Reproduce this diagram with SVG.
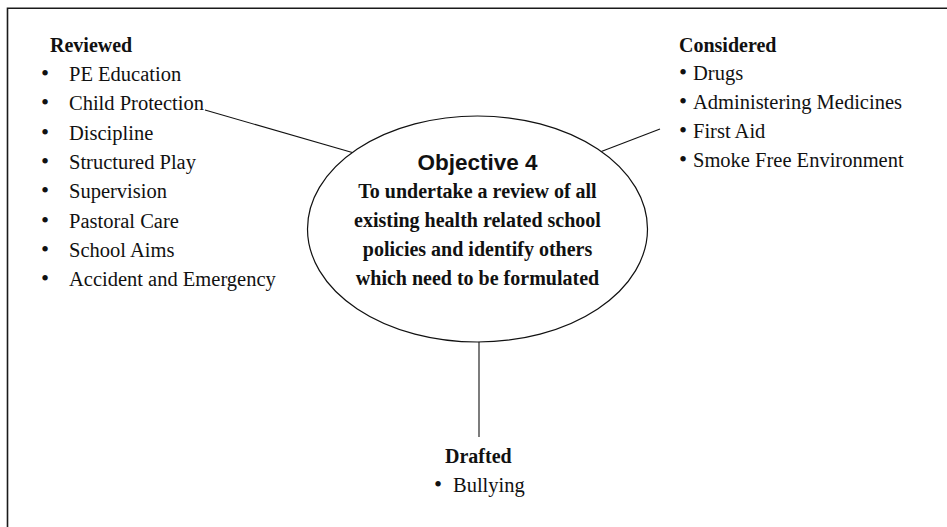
<svg xmlns="http://www.w3.org/2000/svg" width="947" height="527" viewBox="0 0 947 527">
  <style>
    .frame { fill: none; stroke: #1a1a1a; stroke-width: 1.6; }
    .link { fill: none; stroke: #111; stroke-width: 1.1; }
    .oval { fill: #fff; stroke: #111; stroke-width: 1.2; }
    .head { font-family: "Liberation Serif", serif; font-weight: bold; font-size: 20px; fill: #111; }
    .item { font-family: "Liberation Serif", serif; font-size: 20.5px; fill: #111; }
    .dot { font-family: "Liberation Serif", serif; font-size: 23px; fill: #111; }
    .title { font-family: "Liberation Sans", Arial, sans-serif; font-weight: bold; font-size: 22.5px; fill: #111; }
    .body { font-family: "Liberation Serif", serif; font-weight: bold; font-size: 20px; fill: #111; }
  </style>

  <rect width="947" height="527" fill="#fff"/>
  <!-- open frame: top and left edges only -->
  <path class="frame" d="M7.5,527 V8.3 H947"/>

  <g id="connectors">
    <line class="link" x1="205" y1="110" x2="354" y2="153"/>
    <line class="link" x1="600" y1="152" x2="660" y2="129"/>
    <line class="link" x1="479" y1="342" x2="479" y2="437"/>
  </g>

  <g id="objective">
    <ellipse class="oval" cx="477.5" cy="229" rx="170" ry="113"/>
    <text class="title" x="477.5" y="170" text-anchor="middle">Objective 4</text>
    <text class="body" x="477.5" y="198" text-anchor="middle">To undertake a review of all</text>
    <text class="body" x="477.5" y="227" text-anchor="middle">existing health related school</text>
    <text class="body" x="477.5" y="256" text-anchor="middle">policies and identify others</text>
    <text class="body" x="477.5" y="285" text-anchor="middle">which need to be formulated</text>
  </g>

  <g id="reviewed">
    <text class="head" x="50" y="52">Reviewed</text>
    <g class="dot">
      <text x="41" y="81">•</text>
      <text x="41" y="110">•</text>
      <text x="41" y="139.5">•</text>
      <text x="41" y="169">•</text>
      <text x="41" y="198">•</text>
      <text x="41" y="227.5">•</text>
      <text x="41" y="257">•</text>
      <text x="41" y="286">•</text>
    </g>
    <g class="item">
      <text x="69" y="81">PE Education</text>
      <text x="69" y="110">Child Protection</text>
      <text x="69" y="139.5">Discipline</text>
      <text x="69" y="169">Structured Play</text>
      <text x="69" y="198">Supervision</text>
      <text x="69" y="227.5">Pastoral Care</text>
      <text x="69" y="257">School Aims</text>
      <text x="69" y="286">Accident and Emergency</text>
    </g>
  </g>

  <g id="considered">
    <text class="head" x="679" y="52">Considered</text>
    <g class="dot">
      <text x="679" y="80">•</text>
      <text x="679" y="109">•</text>
      <text x="679" y="138">•</text>
      <text x="679" y="167">•</text>
    </g>
    <g class="item">
      <text x="693" y="80">Drugs</text>
      <text x="693" y="109">Administering Medicines</text>
      <text x="693" y="138">First Aid</text>
      <text x="693" y="167">Smoke Free Environment</text>
    </g>
  </g>

  <g id="drafted">
    <text class="head" x="445" y="463">Drafted</text>
    <text class="dot" x="434" y="492">•</text>
    <text class="item" x="453" y="492">Bullying</text>
  </g>
</svg>
